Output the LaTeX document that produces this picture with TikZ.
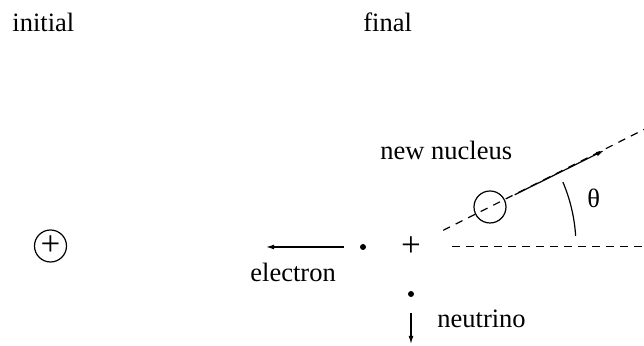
\documentclass[tikz,border=0pt]{standalone}
\usepackage{fontspec}
\setmainfont{Liberation Serif}
\usetikzlibrary{arrows.meta}

\begin{document}
\begin{tikzpicture}[
  x=0.5pt, y=-0.5pt,
  lbl/.style={anchor=base west, inner sep=0pt, font=\fontsize{13.25}{16}\selectfont},
  sign/.style={inner sep=0pt, font=\fontsize{17.5}{20}\selectfont},
  nucleus/.style={draw, circle, inner sep=0pt, minimum size=16pt, line width=0.6pt},
  particle/.style={fill, circle, inner sep=0pt, minimum size=3pt},
  arr/.style={line width=0.6pt, -{Latex[length=4pt,width=2.4pt]}},
  track/.style={line width=0.6pt, dash pattern=on 3.8pt off 3.2pt}
]
\useasboundingbox (0,0) rectangle (644,346);

\node[lbl] (initial) at (12,32) {initial};
\node[lbl] (final) at (363,32) {final};

\node[nucleus, sign] (parent) at (50.5,246) {+};

\node[sign] (daughter) at (411,246.5) {+};
\node[particle] (edot) at (363,247) {};
\node[particle] (ndot) at (411,294) {};
\node[nucleus] (newnuc) at (490,207) {};

\coordinate (etip) at (266,247);
\coordinate (ntip) at (411,344);
\coordinate (hend) at (644,246.5);
\coordinate (dend) at (644,129.5);
\coordinate (vtip) at (604,150.5);

\node[lbl] (electron) at (250,281.5) {electron};
\node[lbl] (neutrino) at (437,328) {neutrino};
\node[lbl] (newlbl) at (380,160) {new nucleus};
\node[lbl] (theta) at (587,208) {θ};

\draw[arr, shorten <=8pt] (edot) -- (etip);
\draw[arr, shorten <=8pt] (ndot) -- (ntip);
\draw[track, shorten <=20.5pt] (daughter.center) -- (hend);
\draw[track, shorten <=18pt] (daughter.center) -- (dend);
\draw[arr, shorten <=13.8pt] (newnuc.center) -- (vtip);
\draw[line width=0.6pt] (daughter.center) ++(-3.7:165) arc[start angle=-3.7, end angle=-23, radius=165];
\end{tikzpicture}
\end{document}
